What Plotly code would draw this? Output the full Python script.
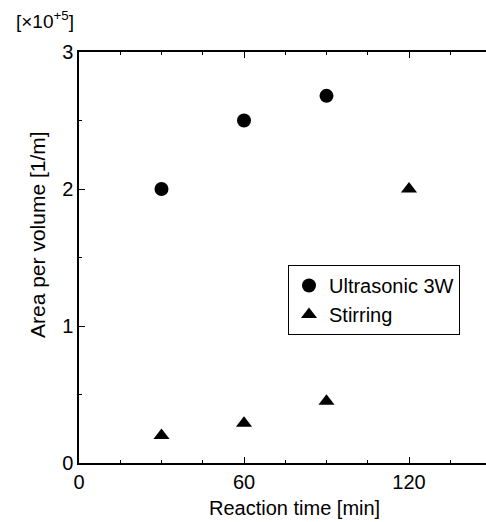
import plotly.graph_objects as go

# Data
time_ultra = [30, 60, 90]
area_ultra = [2.0, 2.5, 2.68]
time_stir = [30, 60, 90, 120]
area_stir = [0.2, 0.29, 0.45, 2.0]
x_ticks = [0, 60, 120]
y_ticks = [0, 1, 2, 3]

FONT = "Arial, Liberation Sans, sans-serif"

W, H = 486, 522
PLOT_L, PLOT_T, PLOT_B, PLOT_R = 79, 52, 463, 486
X_PER_MIN = 2.75          # pixels per minute
ML = PLOT_L
MT = PLOT_T
MB = H - PLOT_B
MR = W - PLOT_R
PW = PLOT_R - PLOT_L
PH = PLOT_B - PLOT_T
X_MAX = PW / X_PER_MIN    # frame is cut by the picture's right edge


def px_x(p):
    return (p - PLOT_L) / PW


def px_y(p):
    return (PLOT_B - p) / PH


fig = go.Figure()
fig.add_trace(go.Scatter(
    x=time_ultra, y=area_ultra, mode="markers", name="Ultrasonic 3W",
    marker=dict(symbol="circle", size=14, color="black"),
    legendgroup="a"))
fig.add_trace(go.Scatter(
    x=time_stir, y=area_stir, mode="markers", name="Stirring",
    marker=dict(symbol="triangle-up", size=14, color="black"),
    legendgroup="b"))

axis_common = dict(
    showline=True, linecolor="black", linewidth=1.5,
    ticks="inside", ticklen=6, tickwidth=1.3, tickcolor="black",
    showgrid=False, zeroline=False,
    tickfont=dict(family=FONT, size=20, color="black"),
)

fig.update_xaxes(
    range=[0, X_MAX], tickmode="array", tickvals=x_ticks,
    ticktext=[str(v) for v in x_ticks],
    minor=dict(dtick=15, tick0=0, ticks="inside", ticklen=3,
               tickwidth=1.3, tickcolor="black"),
    mirror="allticks", **axis_common)
fig.update_yaxes(
    range=[0, 3], tickmode="array", tickvals=y_ticks,
    ticktext=[str(v) for v in y_ticks],
    minor=dict(dtick=0.5, tick0=0, ticks="inside", ticklen=3,
               tickwidth=1.3, tickcolor="black"),
    mirror=False, **axis_common)

fig.update_layout(
    width=W, height=H, autosize=False,
    margin=dict(l=ML, r=MR, t=MT, b=MB, pad=0),
    paper_bgcolor="white", plot_bgcolor="white",
    font=dict(family=FONT, size=20, color="black"),
    legend=dict(
        x=px_x(288), y=px_y(265), xanchor="left", yanchor="top",
        bordercolor="black", borderwidth=1, bgcolor="white",
        font=dict(family=FONT, size=20, color="black"),
        tracegroupgap=0, traceorder="grouped",
    ),
    annotations=[
        dict(text="[×10<sup>+5</sup>]", xref="paper", yref="paper",
             x=px_x(14), y=px_y(20), xanchor="left", yanchor="middle",
             showarrow=False, font=dict(family=FONT, size=19, color="black")),
        dict(text="Area per volume [1/m]", xref="paper", yref="paper",
             x=px_x(37), y=px_y(235), xanchor="center", yanchor="middle",
             textangle=-90, showarrow=False,
             font=dict(family=FONT, size=21, color="black")),
        dict(text="Reaction time [min]", xref="paper", yref="paper",
             x=px_x(294), y=px_y(508), xanchor="center", yanchor="middle",
             showarrow=False, font=dict(family=FONT, size=20, color="black")),
    ],
)

page_css = (
    "document.documentElement.style.margin='0';"
    "document.documentElement.style.overflow='hidden';"
    "document.body.style.margin='0';"
    "document.body.style.overflow='hidden';"
)

fig.write_html("out.html", post_script=page_css,
               config={"displayModeBar": False})
